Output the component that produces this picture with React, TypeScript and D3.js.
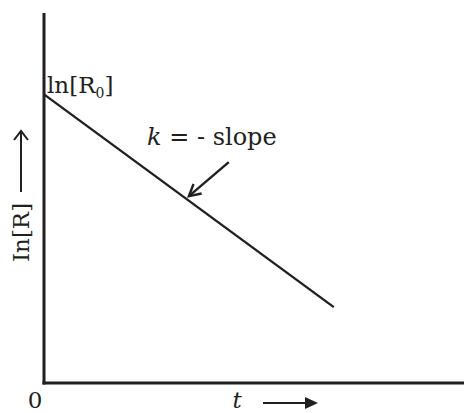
import React from 'react';
import * as d3 from 'd3';

// first-order kinetics: ln[R] vs t
const tValues = [0, 6.9];
const lnRValues = [7.8, 2.05];
const xDomain = [0, 10];
const yDomain = [0, 10];
const arrowFrom = [4.4, 5.97];
const arrowTo = [3.45, 5.05];
const labels = {
  intercept: 'ln[R',
  interceptSub: '0',
  slope: '- slope',
  yLabel: 'In[R]',
  xLabel: 't',
  origin: '0',
};

const W = 464;
const H = 413;
const margin = { top: 13, right: 0, bottom: 30, left: 44 };
const font = '"DejaVu Serif", serif';

const App = () => {
  const x = d3.scaleLinear().domain(xDomain).range([margin.left, W - margin.right]);
  const y = d3.scaleLinear().domain(yDomain).range([H - margin.bottom, margin.top]);

  const pts = tValues.map((t, i) => [x(t), y(lnRValues[i])] as [number, number]);
  const line = d3.line()(pts);

  const ax0 = x(arrowFrom[0]), ay0 = y(arrowFrom[1]);
  const ax1 = x(arrowTo[0]), ay1 = y(arrowTo[1]);
  const ang = Math.atan2(ay1 - ay0, ax1 - ax0);
  const head = (len: number, spread: number) => {
    const a = ang + Math.PI - spread, b = ang + Math.PI + spread;
    return `M${ax1 + len * Math.cos(a)},${ay1 + len * Math.sin(a)}L${ax1},${ay1}L${ax1 + len * Math.cos(b)},${ay1 + len * Math.sin(b)}`;
  };

  const x0 = x(xDomain[0]);
  const y0 = y(yDomain[0]);

  return (
    <svg width={W} height={H} style={{ position: 'absolute', left: 0, top: 0, background: '#fff' }}>
      {/* axes */}
      <line x1={x0} y1={y(yDomain[1])} x2={x0} y2={y0 + 1.5} stroke="#231f20" strokeWidth={3} />
      <line x1={x0 - 1.5} y1={y0} x2={x(xDomain[1])} y2={y0} stroke="#231f20" strokeWidth={3} />

      {/* data line */}
      <path d={line ?? ''} fill="none" stroke="#231f20" strokeWidth={2.4} />

      {/* intercept label */}
      <text x={x0 + 3} y={93} fontFamily={font} fontSize={23} fill="#231f20">
        {labels.intercept}
        <tspan fontSize={14} dy={5}>{labels.interceptSub}</tspan>
        <tspan dy={-5}>]</tspan>
      </text>

      {/* slope annotation */}
      <text x={147} y={145} fontFamily={font} fontSize={24} fill="#231f20">
        <tspan fontStyle="italic">k</tspan>
        <tspan> = {labels.slope}</tspan>
      </text>
      <line x1={ax0} y1={ay0} x2={ax1} y2={ay1} stroke="#231f20" strokeWidth={2.4} />
      <path d={head(13, 0.5)} fill="none" stroke="#231f20" strokeWidth={2.4} />

      {/* y label */}
      <g transform="translate(29,262) rotate(-90)">
        <text x={0} y={0} fontFamily={font} fontSize={23} fill="#231f20">{labels.yLabel}</text>
        <line x1={70} y1={-8} x2={131} y2={-8} stroke="#231f20" strokeWidth={2} />
        <path d="M122,-15L131,-8L122,-1" fill="none" stroke="#231f20" strokeWidth={2} />
      </g>

      {/* x labels */}
      <text x={x0 - 9} y={408} fontFamily={font} fontSize={23} fill="#231f20" textAnchor="middle">{labels.origin}</text>
      <text x={237} y={408} fontFamily={font} fontSize={23} fontStyle="italic" fill="#231f20" textAnchor="middle">{labels.xLabel}</text>
      <line x1={263} y1={403} x2={316} y2={403} stroke="#231f20" strokeWidth={2} />
      <path d="M305,397L318,403L305,409Z" fill="#231f20" />
    </svg>
  );
};

export default App;
